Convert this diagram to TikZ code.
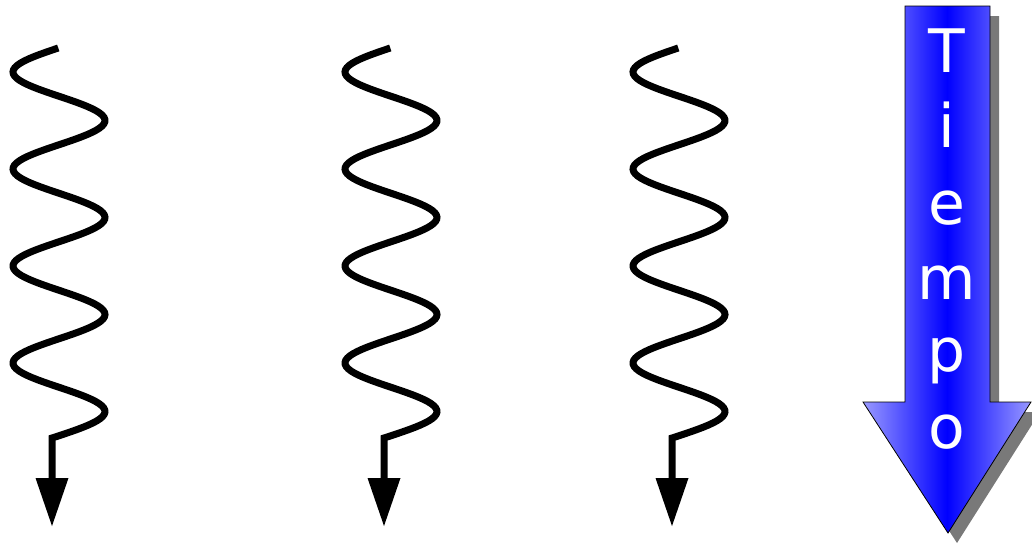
\documentclass[tikz,border=0pt]{standalone}
\usepackage{fontspec}
\newfontfamily\dejavu{DejaVu Sans}
\begin{document}
\begin{tikzpicture}[x=1pt,y=-1pt,
  wave/.style={line width=7pt},
  tiphead/.style={fill=black},
  letter/.style={text=white,font=\dejavu\fontsize{60}{60}\selectfont,anchor=base,inner sep=0pt}]
\useasboundingbox (0,0) rectangle (1032,547);
\foreach \c/\n in {59/1,391/2,679/3}{
  \draw[wave] plot[domain=48:436,samples=180] ({\c-46*cos(3.71134*(\x-72))},\x)
     -- (\c-7,438) coordinate (s\n) -- (\c-7,482) coordinate (e\n);
  \fill[tiphead] (\c-23.5,478) -- (\c+9.5,478) -- (\c-7,526) -- cycle;
}
% shadow
\fill[gray!95!black] (914,16) -- (999,16) -- (999,412) -- (1040,412) -- (957,543) -- (872,412) -- (914,412) -- cycle;
% big arrow
\shade[left color=blue!40,right color=blue!40,middle color=blue,draw=black,line width=0.8pt]
  (905,6) -- (990,6) -- (990,402) -- (1031,402) -- (948,533) -- (863,402) -- (905,402) -- cycle;
\foreach \l/\y/\n in {T/72/1,i/147/2,e/224/3,m/299/4,p/371/5,o/448/6}{
  \node[letter] (l\n) at (947,\y) {\l};
}
\end{tikzpicture}
\end{document}
